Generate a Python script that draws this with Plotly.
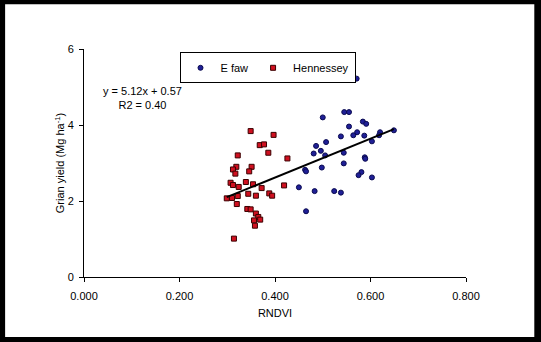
import plotly.graph_objects as go

# ---- data ----
efaw_x = [0.571, 0.545, 0.555, 0.500, 0.584, 0.591, 0.555, 0.572, 0.564, 0.538,
          0.587, 0.620, 0.618, 0.649, 0.603, 0.507, 0.486, 0.496, 0.481, 0.505,
          0.544, 0.588, 0.589, 0.463, 0.465, 0.498, 0.544, 0.581, 0.575, 0.603,
          0.450, 0.483, 0.524, 0.538, 0.465]
efaw_y = [5.22, 4.34, 4.34, 4.20, 4.09, 4.03, 3.96, 3.81, 3.73, 3.70,
          3.72, 3.81, 3.73, 3.86, 3.57, 3.55, 3.45, 3.32, 3.25, 3.20,
          3.27, 3.15, 3.11, 2.82, 2.78, 2.88, 2.99, 2.76, 2.68, 2.62,
          2.36, 2.26, 2.26, 2.22, 1.73]

henn_x = [0.349, 0.397, 0.368, 0.377, 0.386, 0.322, 0.426, 0.319, 0.351, 0.312,
          0.346, 0.317, 0.307, 0.312, 0.324, 0.339, 0.354, 0.372, 0.419, 0.299,
          0.310, 0.322, 0.344, 0.360, 0.388, 0.394, 0.320, 0.342, 0.349, 0.360,
          0.365, 0.369, 0.356, 0.358, 0.314]
henn_y = [3.84, 3.74, 3.47, 3.49, 3.27, 3.20, 3.12, 2.90, 2.90, 2.83,
          2.78, 2.72, 2.48, 2.42, 2.37, 2.50, 2.44, 2.34, 2.41, 2.07,
          2.08, 2.13, 2.19, 2.14, 2.20, 2.14, 1.92, 1.79, 1.78, 1.67,
          1.58, 1.51, 1.49, 1.35, 1.01]

series_names = ["E faw", "Hennessey"]
trend_slope = 5.12
trend_intercept = 0.57
trend_r2 = 0.40
x_ticks = [0.0, 0.2, 0.4, 0.6, 0.8]
y_ticks = [0, 2, 4, 6]
x_title = "RNDVI"
y_title = "Grian yield (Mg ha<sup>-1</sup>)"

FONT = "Arial, Liberation Sans, sans-serif"

all_x = efaw_x + henn_x
tx = [min(all_x), max(all_x)]
ty = [trend_slope * v + trend_intercept for v in tx]

fig = go.Figure()
fig.add_trace(go.Scatter(
    x=efaw_x, y=efaw_y, mode="markers", name=series_names[0],
    marker=dict(symbol="circle", size=5, color="#1f1f96",
                line=dict(color="#0a0a50", width=1)),
))
fig.add_trace(go.Scatter(
    x=henn_x, y=henn_y, mode="markers", name=series_names[1],
    marker=dict(symbol="square", size=5, color="#d01020",
                line=dict(color="#3a0000", width=1)),
))
fig.add_trace(go.Scatter(
    x=tx, y=ty, mode="lines", showlegend=False,
    line=dict(color="black", width=2),
))

fig.add_shape(type="rect", xref="paper", yref="paper",
              x0=-0.2065, x1=1.1788, y0=-0.2628, y1=1.1958,
              fillcolor="white", line=dict(width=0), layer="below")

fig.add_annotation(
    xref="paper", yref="paper", x=0.153, y=0.784,
    text=f"y = {trend_slope:.2f}x + {trend_intercept:.2f}<br>R2 = {trend_r2:.2f}",
    showarrow=False, align="center", xanchor="center", yanchor="middle",
    font=dict(family=FONT, size=11, color="black"),
)

fig.update_layout(
    width=541, height=342,
    margin=dict(l=84, r=74.5, t=49, b=65, pad=0),
    paper_bgcolor="black", plot_bgcolor="white",
    font=dict(family=FONT, size=11, color="black"),
    showlegend=True,
    legend=dict(
        orientation="h", x=0.25, y=0.9855, xanchor="left", yanchor="top",
        bgcolor="white", bordercolor="black", borderwidth=1,
        font=dict(family=FONT, size=11, color="black"),
        itemwidth=30,
    ),
    xaxis=dict(
        range=[0, 0.8], tickvals=x_ticks, tickformat=".3f",
        showgrid=False, zeroline=False, showline=True, linecolor="black",
        linewidth=1, ticks="outside", ticklen=4, tickcolor="black",
        ticklabelstandoff=5,
        title=dict(text=x_title, standoff=8, font=dict(size=11)),
    ),
    yaxis=dict(
        range=[0, 6], tickvals=y_ticks,
        showgrid=False, zeroline=False, showline=True, linecolor="black",
        linewidth=1, ticks="outside", ticklen=4, tickcolor="black",
        ticklabelstandoff=3,
        title=dict(text=y_title, standoff=0, font=dict(size=11)),
    ),
)

fig.write_html("out.html")
